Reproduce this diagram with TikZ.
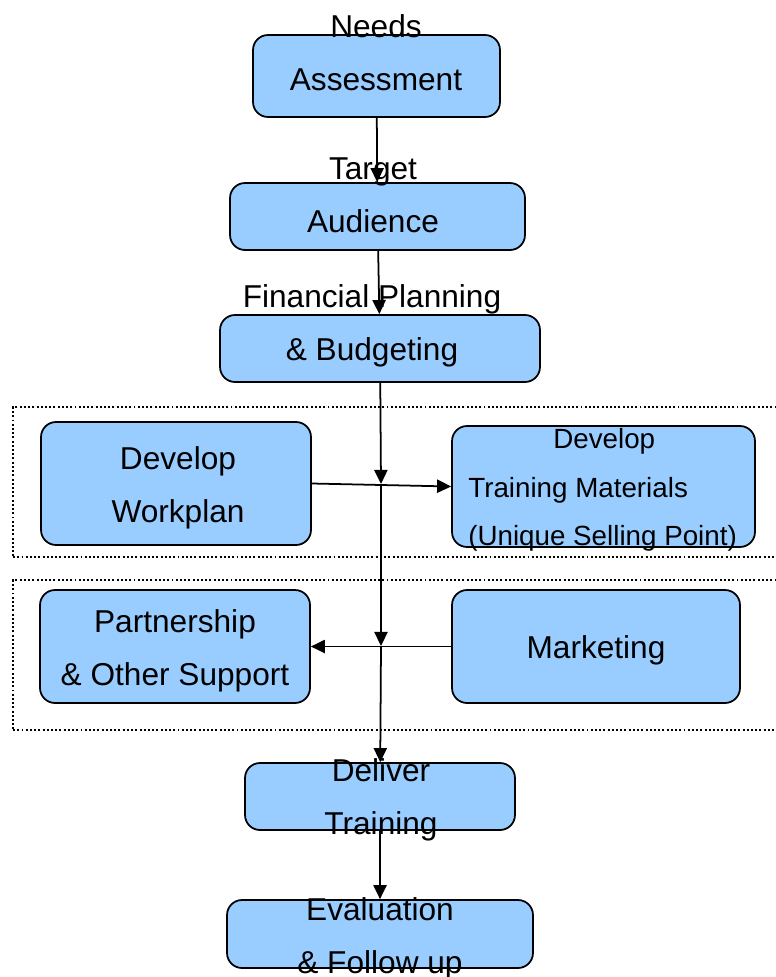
\documentclass[tikz,border=0pt]{standalone}
\usepackage{fontspec}
\setmainfont{Liberation Sans}
\usetikzlibrary{arrows.meta}
\definecolor{stageblue}{HTML}{99CCFF}

\begin{document}
\begin{tikzpicture}[x=0.02cm, y=-0.02cm,
  stage/.style={draw, line width=1pt, fill=stageblue, rounded corners=0.3cm, inner sep=0pt},
  group/.style={draw, line width=0.85pt, dash pattern=on 1.1pt off 1.3pt, inner sep=0pt,
                minimum width=15.54cm, minimum height=3cm},
  txt/.style={align=center, font=\fontsize{18}{30}\selectfont, inner sep=0pt},
  flow/.style={line width=1pt, -{Triangle[length=8pt,width=7.5pt]}}]
\useasboundingbox (0,0) rectangle (776,977);

% dotted groups
\node (grp1) [group] at (401.5,482) {};
\node (grp2) [group] at (401.5,655) {};

% stages
\node (needs)   [stage, minimum width=4.94cm, minimum height=1.64cm] at (376.5,76) {};
\node (target)  [stage, minimum width=5.9cm,  minimum height=1.34cm] at (377.5,216.5) {};
\node (budget)  [stage, minimum width=6.4cm,  minimum height=1.34cm] at (380,348.5) {};
\node (plan)    [stage, minimum width=5.4cm,  minimum height=2.46cm] at (176,483.5) {};
\node (usp)     [stage, minimum width=6.06cm, minimum height=2.42cm] at (603.5,486.5) {};
\node (partner) [stage, minimum width=5.4cm,  minimum height=2.26cm] at (175,646.5) {};
\node (market)  [stage, minimum width=5.76cm, minimum height=2.26cm] at (596,646.5) {};
\node (deliver) [stage, minimum width=5.4cm,  minimum height=1.34cm] at (380,796.5) {};
\node (eval)    [stage, minimum width=6.12cm, minimum height=1.36cm] at (380,934) {};

\coordinate (m1) at (381,484);
\coordinate (m2) at (381,646);

% connectors
\draw[flow] (needs) -- (target);
\draw[flow] (target) -- (budget);
\draw[flow] (budget) -- (m1);
\draw[flow] (m1) -- (m2);
\draw[flow] (m2) -- (deliver);
\draw[flow] (plan.east) -- (usp.west);
\draw[flow] (market.west) -- (partner.east);
\draw[flow] (deliver) -- (eval);

% labels
\node (needs-t)   [txt] at (376,53)  {Needs\\Assessment};
\node (target-t)  [txt] at (373,195) {Target\\Audience};
\node (budget-t)  [txt] at (372,326) {Financial Planning\\\& Budgeting};
\node (plan-t)    [txt] at (178,488) {Develop\\Workplan};
\node (usp-t)     [txt, align=left, anchor=west, font=\fontsize{15.8}{27.5}\selectfont]
                  at (468,490) {\hspace*{1.7cm}Develop\\Training Materials\\(Unique Selling Point)};
\node (partner-t) [txt] at (175,651) {Partnership\\\& Other Support};
\node (market-t)  [txt] at (596,650) {Marketing};
\node (deliver-t) [txt] at (381,800) {Deliver\\Training};
\node (eval-t)    [txt] at (380,939) {Evaluation\\\& Follow up};

\end{tikzpicture}
\end{document}
